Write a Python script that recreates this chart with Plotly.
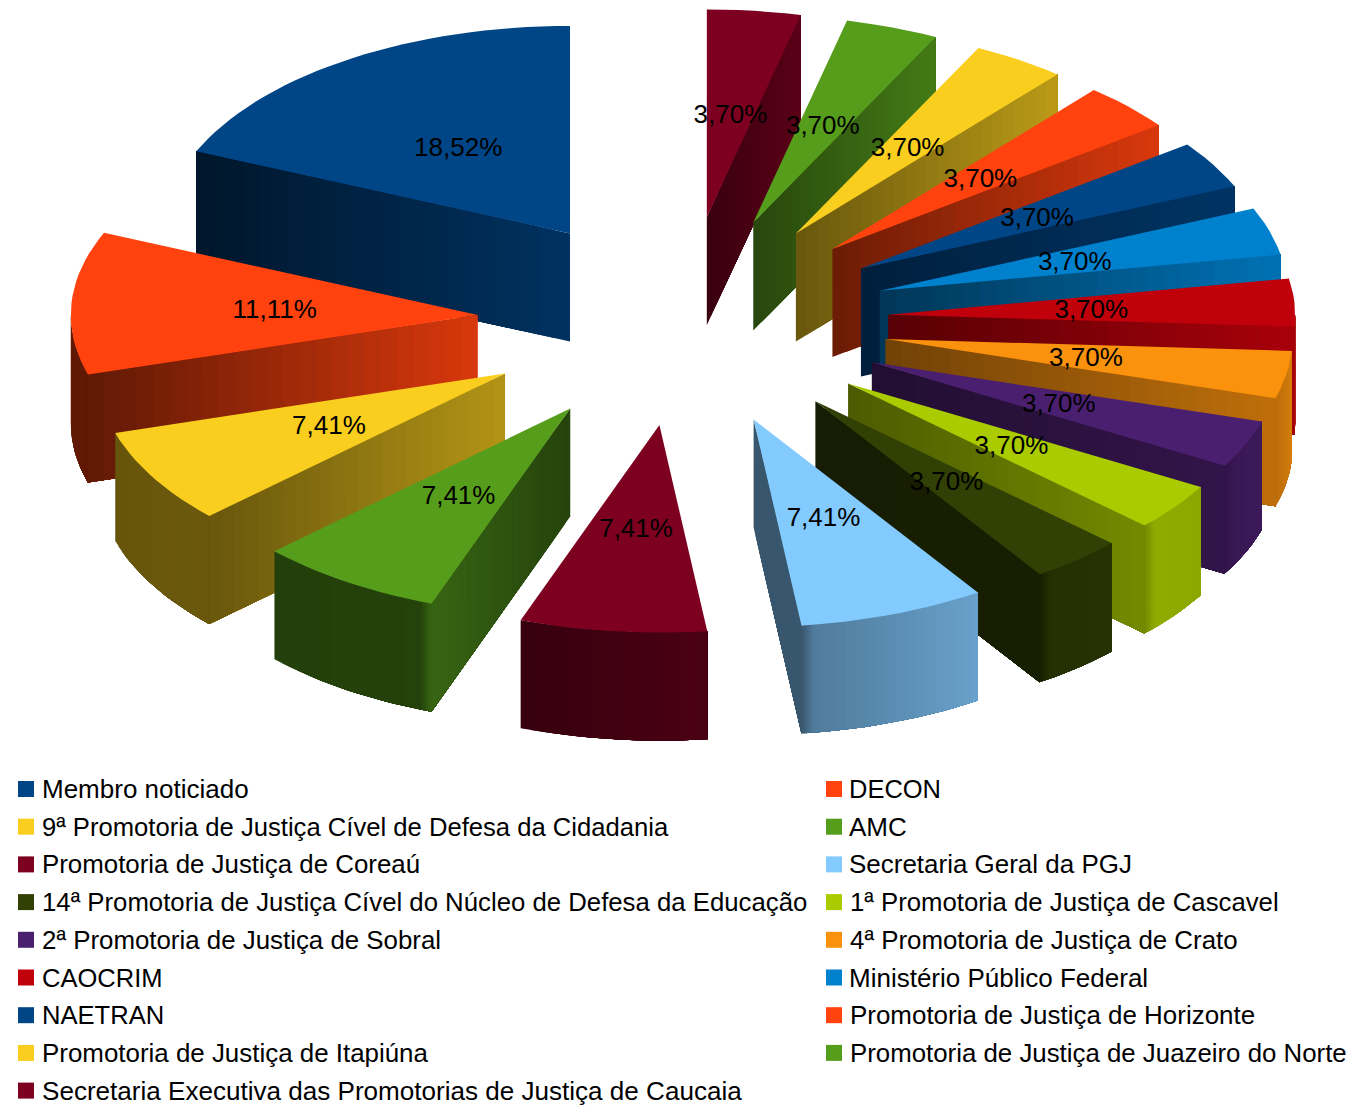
import math
import plotly.graph_objects as go

# ---- data -------------------------------------------------------------
categories = [
    "Membro noticiado", "DECON",
    "9ª Promotoria de Justiça Cível de Defesa da Cidadania", "AMC",
    "Promotoria de Justiça de Coreaú", "Secretaria Geral da PGJ",
    "14ª Promotoria de Justiça Cível do Núcleo de Defesa da Educação",
    "1ª Promotoria de Justiça de Cascavel",
    "2ª Promotoria de Justiça de Sobral", "4ª Promotoria de Justiça de Crato",
    "CAOCRIM", "Ministério Público Federal", "NAETRAN",
    "Promotoria de Justiça de Horizonte", "Promotoria de Justiça de Itapiúna",
    "Promotoria de Justiça de Juazeiro do Norte",
    "Secretaria Executiva das Promotorias de Justiça de Caucaia",
]
percent = [18.52, 11.11, 7.41, 7.41, 7.41, 7.41, 3.70, 3.70, 3.70, 3.70,
           3.70, 3.70, 3.70, 3.70, 3.70, 3.70, 3.70]

# ---- style ------------------------------------------------------------
colors = ["#004586", "#ff420e", "#f9ce1e", "#579d1c", "#7e0021", "#83caff",
          "#314004", "#aacb00", "#4b1f6f", "#fb920e", "#c0000b", "#0081cd",
          "#004586", "#ff420e", "#f9ce1e", "#579d1c", "#7e0021"]
# shade of the cut face at the apex / at the rim
face_shade = [(.72, .32), (.85, .38), (.72, .42), (.42, .64), (.5, .5), (.43, .43),
              (.45, .48), (.45, .68), (.45, .66), (.45, .76), (.45, .88), (.42, .88),
              (.45, .75), (.42, .85), (.42, .75), (.45, .78), (.45, .72)]
# shade of the rim wall at its left-most / right-most visible end
rim_shade = [(.4, .4), (.38, .38), (.41, .43), (.40, .42), (.43, .59), (.6, .8),
             (.76, .78), (.85, .82), (.76, .8), (.76, .86), (.85, .85), (.85, .85),
             (.8, .8), (.8, .8), (.8, .8), (.8, .8), (.8, .8)]
# per-line font scale, the reference text is hinted a little narrower
legend_fit = [1.0, .98, .986, 1.0, .995, .999, .991, .99, .995, .995,
              .983, 1.0, .984, .998, .997, .994, 1.003]

W, H = 1355, 1106
CX, CY = 683, 321          # pie centre, px
RX, RY = 407, 207.5        # pie radii, px
DEPTH = 108 / RY           # extrusion, in y units
PULL = 0.505               # explosion
FONT = "Liberation Sans"
GLOW_PX = 12               # soft shading width at the rim/cut-face edge


def shade(hex_col, k):
    r, g, b = (int(hex_col[i:i + 2], 16) for i in (1, 3, 5))
    return f"rgb({round(r * k)},{round(g * k)},{round(b * k)})"


def poly(xs, ys, col):
    return go.Scatter(x=list(xs) + [xs[0]], y=list(ys) + [ys[0]], mode="lines",
                      fill="toself", fillcolor=col, line=dict(width=0),
                      hoverinfo="skip", showlegend=False)


def rim_breaks(lo, hi, vis):
    """Angles of the rim strips: coarse in general, fine next to the shaded edge."""
    out, a = [lo], lo
    while a < hi - 1e-9:
        near = vis is not None and abs(a - vis) < 3.0
        a = min(hi, a + (0.2 if near else 1.5))
        out.append(a)
    return out


fig = go.Figure()
total = sum(percent)
angle = 90.0
slices = []
for i, p in enumerate(percent):
    a0 = angle
    a1 = angle + 360 * p / total
    angle = a1
    slices.append((math.sin(math.radians((a0 + a1) / 2)), i, a0, a1))

labels_x, labels_y, labels_t = [], [], []
for _, i, a0, a1 in sorted(slices, reverse=True):
    mid = math.radians((a0 + a1) / 2)
    ox, oy = PULL * math.cos(mid), PULL * math.sin(mid)
    col = colors[i]

    def pt(a, r=1.0):
        return ox + r * math.cos(math.radians(a)), oy + r * math.sin(math.radians(a))

    # visible cut face: each strip runs on to the rim so no seams show
    vis = None
    if math.cos(math.radians(a0)) > 1e-6:
        vis = a0
    elif math.cos(math.radians(a1)) < -1e-6:
        vis = a1
    if vis is not None:
        n = 24
        xe, ye = pt(vis, 1.0)
        for k in range(n):
            x0, y0 = pt(vis, k / n)
            s = face_shade[i][0] + (face_shade[i][1] - face_shade[i][0]) * (k + .5) / n
            fig.add_trace(poly([x0, xe, xe, x0], [y0, ye, ye - DEPTH, y0 - DEPTH], shade(col, s)))

    # visible rim wall, same technique
    lo, hi = max(a0, 180), min(a1, 360)
    if hi > lo:
        breaks = rim_breaks(lo, hi, vis)
        for k in range(len(breaks) - 1):
            b = breaks[k:]
            pts = [pt(q) for q in b]
            xs = [q[0] for q in pts]
            ys = [q[1] for q in pts]
            bm = (breaks[k] + breaks[k + 1]) / 2
            f = (bm - lo) / (hi - lo)
            s = rim_shade[i][0] + (rim_shade[i][1] - rim_shade[i][0]) * f
            if vis is not None:
                vx, vy = pt(vis)
                mx, my = pt(bm)
                dist = math.hypot((vx - mx) * RX, (vy - my) * RY)
                if dist < GLOW_PX:
                    t = dist / GLOW_PX
                    s = face_shade[i][1] * (1 - t) + s * t
            fig.add_trace(poly(xs + xs[::-1], ys + [q - DEPTH for q in ys[::-1]], shade(col, s)))

    # top face
    n = max(3, int((a1 - a0) / 2))
    arc = [pt(a0 + (a1 - a0) * k / n) for k in range(n + 1)]
    fig.add_trace(poly([ox] + [q[0] for q in arc], [oy] + [q[1] for q in arc], col))

    lx, ly = pt((a0 + a1) / 2, 0.5)
    labels_x.append(lx)
    labels_y.append(ly - 2.5 / RY)
    labels_t.append(f"{percent[i]:.2f}%".replace(".", ","))

# data labels
fig.add_trace(go.Scatter(x=labels_x, y=labels_y, text=labels_t, mode="text",
                         textposition="middle center",
                         textfont=dict(family=FONT, size=26, color="#000000"),
                         hoverinfo="skip", showlegend=False))

# legend (two columns, nine rows)
ROW0, ROWH = 789, 37.7
for i, name in enumerate(categories):
    col_i, row_i = i % 2, i // 2
    left = 18 if col_i == 0 else 826
    ty = ROW0 + ROWH * row_i
    fig.add_shape(type="rect", xref="paper", yref="paper",
                  x0=left / W, x1=(left + 16) / W,
                  y0=1 - (ty + 8) / H, y1=1 - (ty - 8) / H,
                  fillcolor=colors[i], line_width=0)
    fig.add_annotation(xref="paper", yref="paper", x=(left + 24 - (col_i * .5)) / W, y=1 - ty / H,
                       text=name, showarrow=False, xanchor="left", yanchor="middle",
                       borderpad=0, borderwidth=0,
                       font=dict(family=FONT, size=26 * legend_fit[i], color="#000000"))

fig.update_layout(
    width=W, height=H, margin=dict(l=0, r=0, t=0, b=0),
    paper_bgcolor="white", plot_bgcolor="white", showlegend=False,
    xaxis=dict(visible=False, range=[-CX / RX, (W - CX) / RX], fixedrange=True),
    yaxis=dict(visible=False, range=[-(H - CY) / RY, CY / RY], fixedrange=True),
)
fig.write_html("out.html", config={"displayModeBar": False},
               post_script="document.body.style.margin='0';document.body.style.overflow='hidden';")
